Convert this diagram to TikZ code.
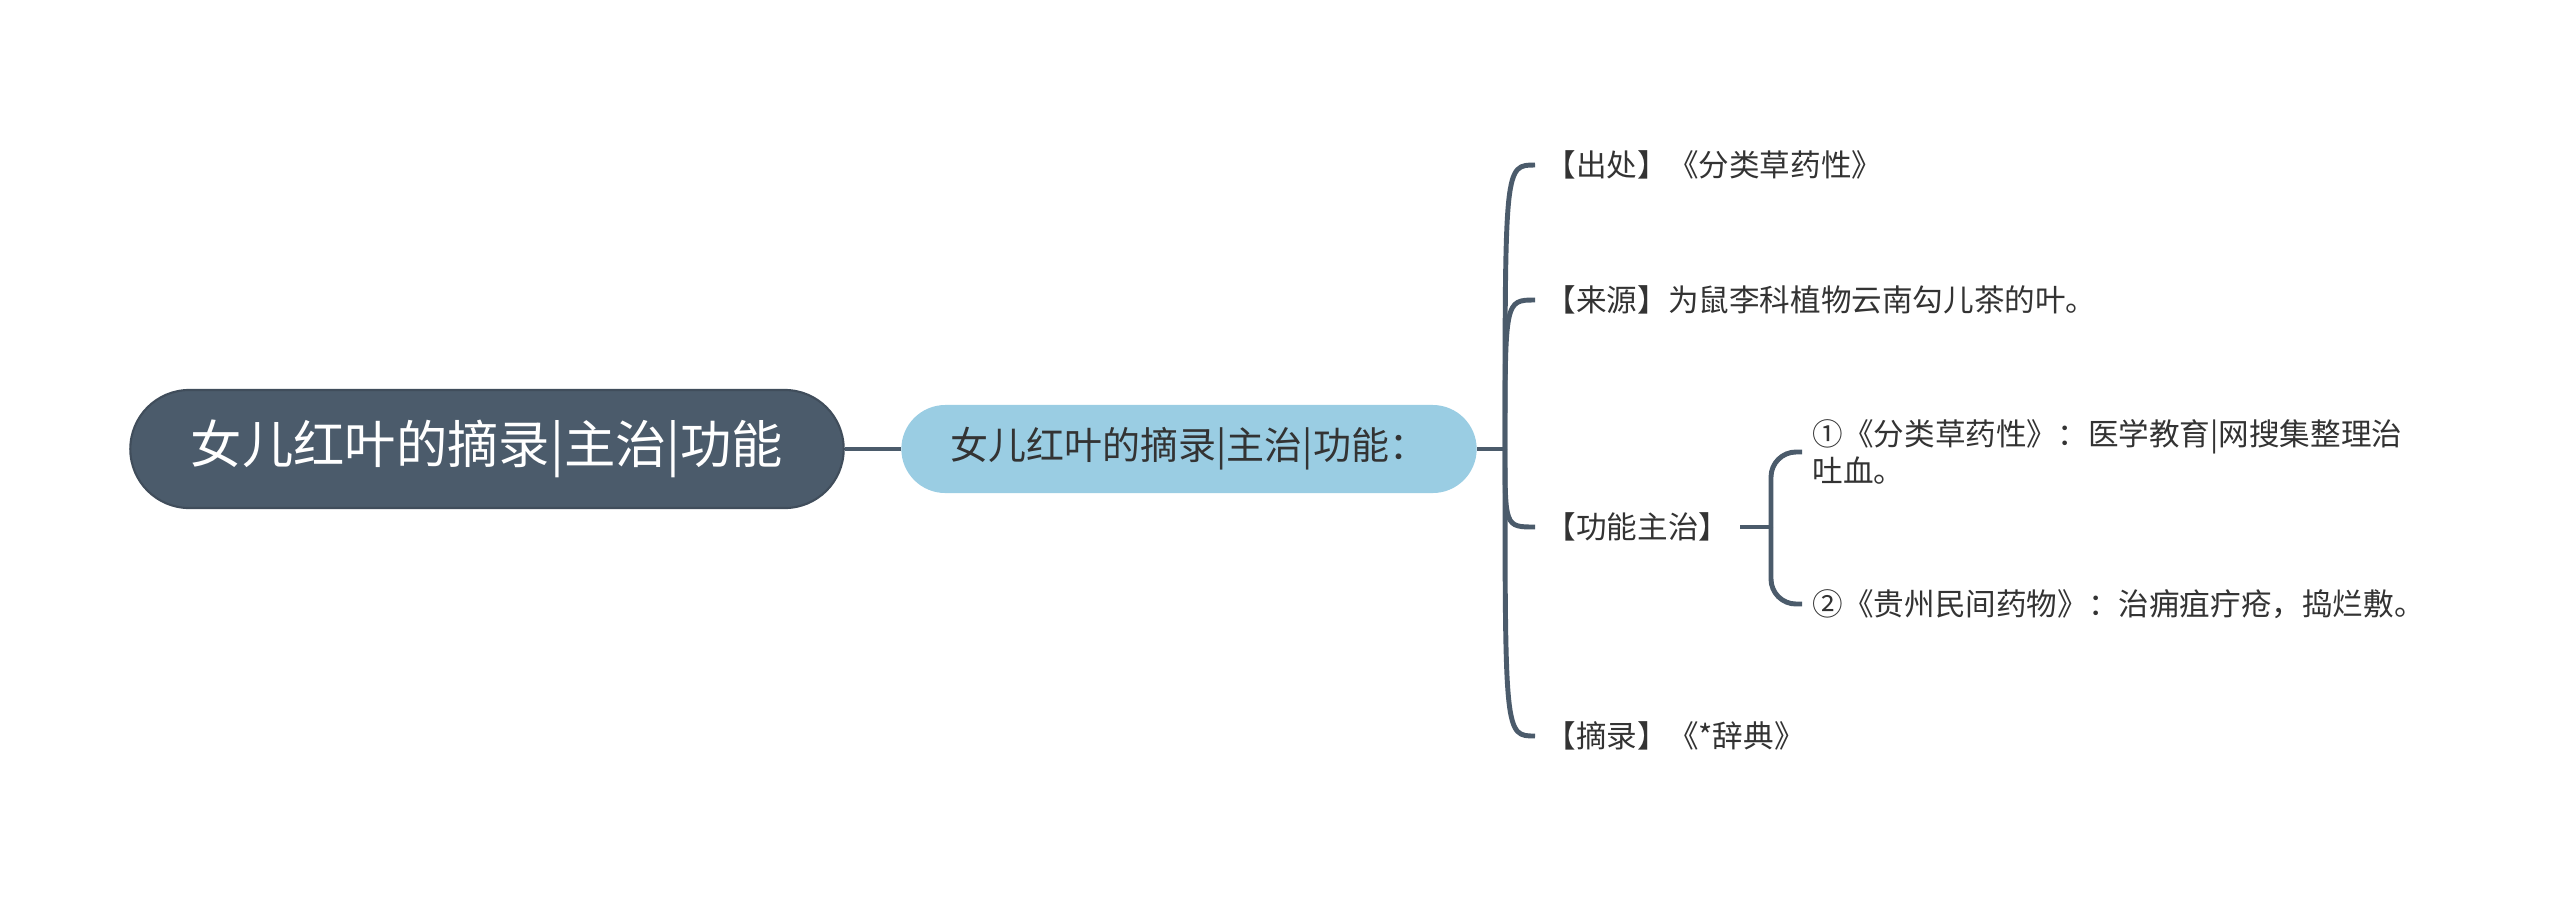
\documentclass[tikz,border=0pt]{standalone}
\usepackage{fontspec}
\usepackage{tikz}
\newfontfamily\cjk{Noto Sans CJK SC}
\definecolor{slate}{HTML}{4B5B6B}
\definecolor{skyb}{HTML}{9ACDE3}
\definecolor{txt}{HTML}{333333}

\begin{document}
\begin{tikzpicture}[x=0.01cm,y=-0.01cm,
			myroot/.style={rounded corners=0.59cm, fill=slate, draw=slate!85!black, line width=0.6pt, minimum width=7.13cm, minimum height=1.18cm, text=white, font=\cjk\fontsize{14.6}{17}\selectfont},
			mymain/.style={rounded corners=0.44cm, fill=skyb, minimum width=5.75cm, minimum height=0.88cm, text=txt, font=\cjk\fontsize{10.8}{13}\selectfont},
			myleaf/.style={anchor=west, inner xsep=0.1cm, inner ysep=2pt, text=txt, align=left, font=\cjk\fontsize{8.7}{10.6}\selectfont},
			mylink/.style={draw=slate, line width=1.4pt}
			]
			\useasboundingbox (0,0) rectangle (2560,899);
			\node[myroot] (r) at (487,449) {女儿红叶的摘录|主治|功能};
			\node[mymain] (m) at (1189,449) {女儿红叶的摘录|主治|功能：};
			\coordinate (j) at (1505,449);
			%%%%%%%%%%%%%%%
			\node[myleaf] (l1) at (1535,165) {【出处】《分类草药性》};
			\node[myleaf] (l2) at (1535,300) {【来源】为鼠李科植物云南勾儿茶的叶。};
			\node[myleaf] (l3) at (1535,527) {【功能主治】};
			\node[myleaf] (l4) at (1535,736) {【摘录】《*辞典》};
			%%%%%%%%%%%%%%%
			\coordinate (sj) at (1771,527);
			\node[myleaf] (s1) at (1802,452) {①《分类草药性》：医学教育|网搜集整理治\\吐血。};
			\node[myleaf] (s2) at (1802,604) {②《贵州民间药物》：治痈疽疔疮，捣烂敷。};
			\draw[mylink] (r) -- (m);
			\draw[mylink] (m) -- (j);
			\draw[mylink] (j) .. controls (j |- l1) .. (l1.west);
			\draw[mylink] (j) .. controls (j |- l2) .. (l2.west);
			\draw[mylink] (j) .. controls (j |- l3) .. (l3.west);
			\draw[mylink] (j) .. controls (j |- l4) .. (l4.west);
			\draw[mylink] (l3) -- (sj);
			\draw[mylink, rounded corners=0.25cm] (sj) |- (s1.west);
			\draw[mylink, rounded corners=0.25cm] (sj) |- (s2.west);
		\end{tikzpicture}
\end{document}
